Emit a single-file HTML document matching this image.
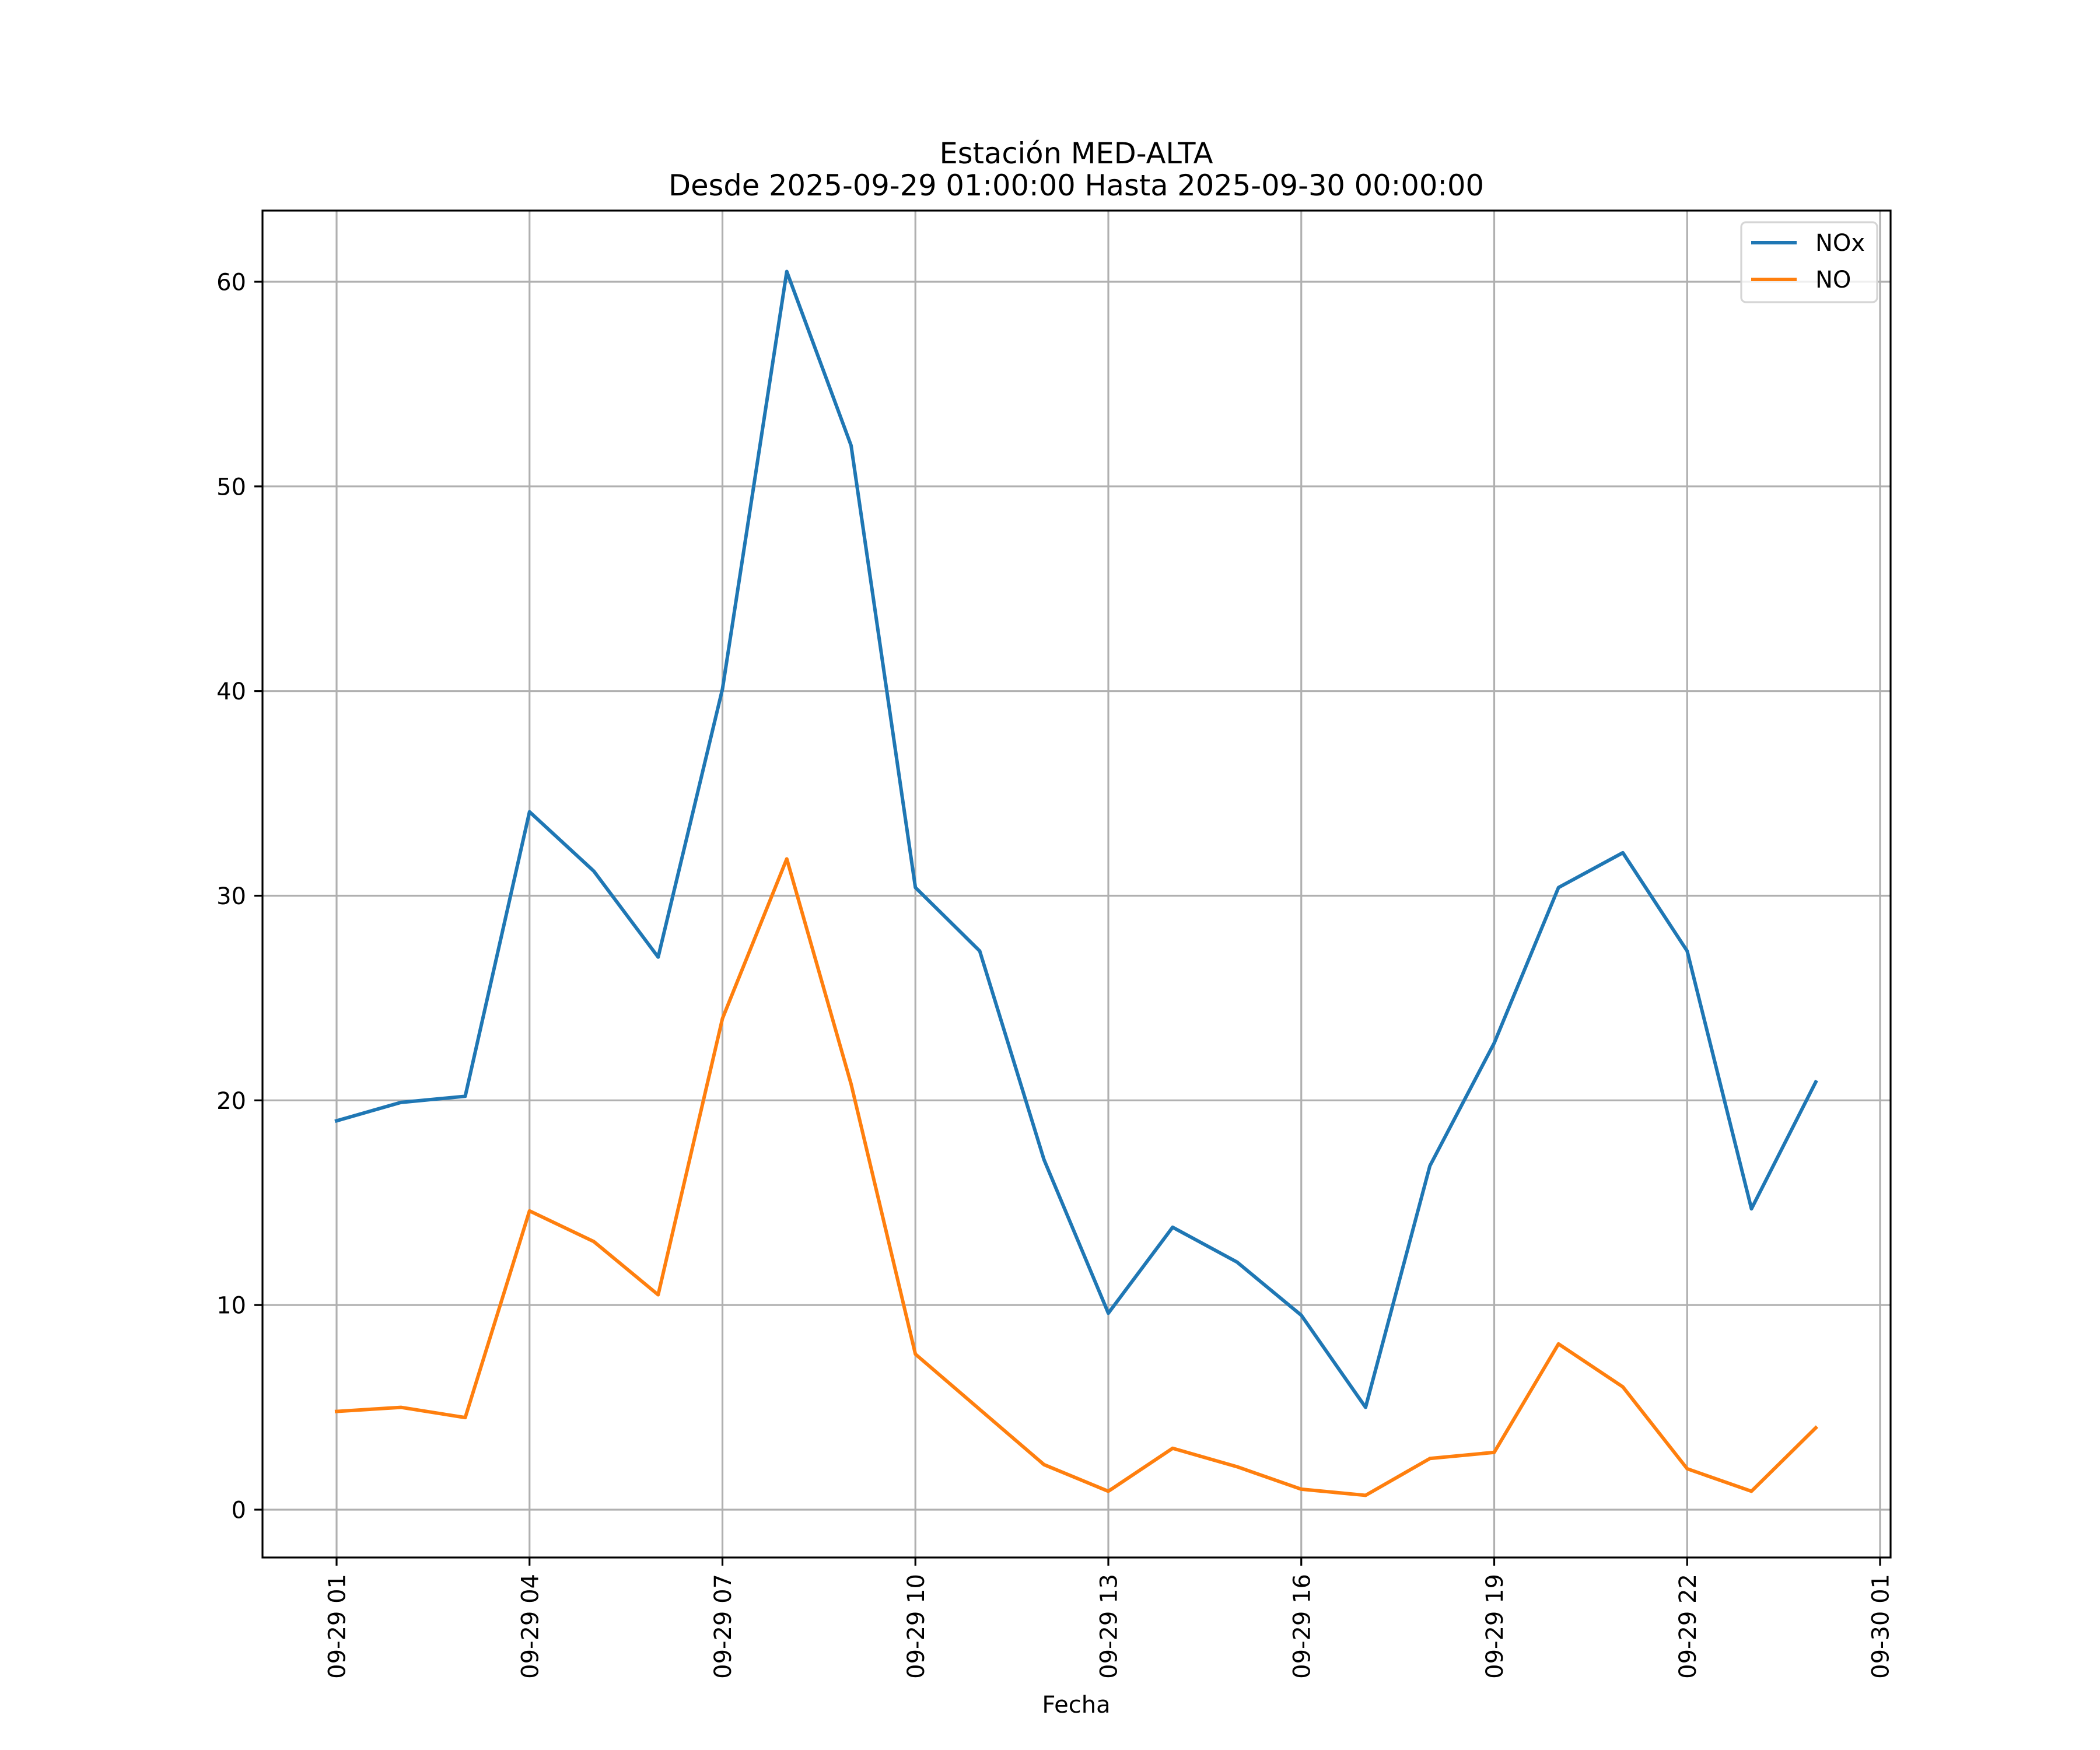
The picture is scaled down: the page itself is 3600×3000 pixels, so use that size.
<!DOCTYPE html>
<html><head><meta charset="utf-8"><style>
html,body{margin:0;padding:0;background:#fff}
svg{display:block;font-family:"DejaVu Sans","Liberation Sans",sans-serif}
</style></head><body>
<svg id="chart" width="3600" height="3000" xmlns="http://www.w3.org/2000/svg"></svg>
<script>
const hours=[1,2,3,4,5,6,7,8,9,10,11,12,13,14,15,16,17,18,19,20,21,22,23,24];
const noxValues=[19.0,19.9,20.2,34.1,31.2,27.0,40.1,60.5,52.0,30.4,27.3,17.1,9.6,13.8,12.1,9.5,5.0,16.8,22.8,30.4,32.1,27.3,14.7,20.9];
const noValues=[4.8,5.0,4.5,14.6,13.1,10.5,24.0,31.8,20.8,7.6,4.9,2.2,0.9,3.0,2.1,1.0,0.7,2.5,2.8,8.1,6.0,2.0,0.9,4.0];
const yTicks=[0,10,20,30,40,50,60];
const xTickHours=[1,4,7,10,13,16,19,22,25];
const xTickLabels=["09-29 01","09-29 04","09-29 07","09-29 10","09-29 13","09-29 16","09-29 19","09-29 22","09-30 01"];

const svg=document.getElementById('chart');
const NS="http://www.w3.org/2000/svg";
const L=450,R=3241,T=361,B=2670;
const FS=40;
function xs(h){return 577+(h-1)*(3223-577)/24;}
function ys(v){return 2588+(483-2588)*v/60;}
function mk(tag,attrs,parent){const e=document.createElementNS(NS,tag);for(const k in attrs)e.setAttribute(k,attrs[k]);(parent||svg).appendChild(e);return e;}

xTickHours.forEach(h=>{const g=mk('line',{x1:xs(h),x2:xs(h),y1:T,y2:B,stroke:'#b0b0b0','stroke-width':3.2});

});
yTicks.forEach(v=>{const g=mk('line',{x1:L,x2:R,y1:ys(v),y2:ys(v),stroke:'#b0b0b0','stroke-width':3.2});

});

function series(vals,color){
  const pts=vals.map((v,i)=>xs(hours[i])+','+ys(v)).join(' ');
  return mk('polyline',{points:pts,fill:'none',stroke:color,'stroke-width':6,'stroke-linejoin':'round','stroke-linecap':'square'});
}
const s1=series(noxValues,'#1f77b4');


const s2=series(noValues,'#ff7f0e');



const fr=mk('rect',{x:L,y:T,width:R-L,height:B-T,fill:'none',stroke:'#000','stroke-width':3.2});



yTicks.forEach(v=>{
  mk('line',{x1:L-14,x2:L,y1:ys(v),y2:ys(v),stroke:'#000','stroke-width':3.2});
  const t=mk('text',{x:L-28,y:ys(v)+14.5,'text-anchor':'end','font-size':FS});
  t.textContent=v;
  
  
});
xTickHours.forEach((h,i)=>{
  mk('line',{x1:xs(h),x2:xs(h),y1:B,y2:B+14,stroke:'#000','stroke-width':3.2});
  const t=mk('text',{x:0,y:0,'text-anchor':'end','font-size':FS,transform:`translate(${xs(h)+14.5},${B+28}) rotate(-90)`});
  t.textContent=xTickLabels[i];
  
  
});

let t=mk('text',{x:1845,y:280,'text-anchor':'middle','font-size':49.5});t.textContent='Estación MED-ALTA';


t=mk('text',{x:1845,y:335,'text-anchor':'middle','font-size':49.5});t.textContent='Desde 2025-09-29 01:00:00 Hasta 2025-09-30 00:00:00';


t=mk('text',{x:1845,y:2936,'text-anchor':'middle','font-size':FS});t.textContent='Fecha';


const lg=mk('rect',{x:2985,y:381,width:233,height:137,rx:8,fill:'#fff','fill-opacity':0.8,stroke:'#d5d5d5','stroke-width':3.2});


mk('line',{x1:3002,x2:3080,y1:416,y2:416,stroke:'#1f77b4','stroke-width':6});
t=mk('text',{x:3112,y:430,'font-size':FS});t.textContent='NOx';


mk('line',{x1:3002,x2:3080,y1:479,y2:479,stroke:'#ff7f0e','stroke-width':6});
t=mk('text',{x:3112,y:493,'font-size':FS});t.textContent='NO';


</script>
</body></html>
